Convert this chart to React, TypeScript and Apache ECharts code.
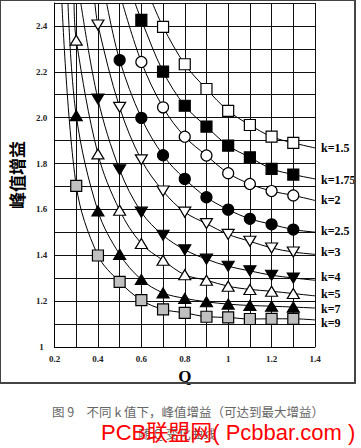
import React, { useEffect, useRef } from "react";
import * as echarts from "echarts";

// ---- data ----
const kNames = ["k=1.5", "k=1.75", "k=2", "k=2.5", "k=3", "k=4", "k=5", "k=7", "k=9"];

// marker Q positions and gains for each k
const qK15 = [0.7, 0.8, 0.9, 1.0, 1.1, 1.2, 1.3];
const gK15 = [2.396, 2.233, 2.125, 2.03, 1.968, 1.917, 1.89];
const qK175 = [0.6, 0.7, 0.8, 0.9, 1.0, 1.1, 1.2, 1.3];
const gK175 = [2.426, 2.201, 2.052, 1.961, 1.878, 1.827, 1.777, 1.752];
const qK2 = [0.6, 0.7, 0.8, 0.9, 1.0, 1.1, 1.2, 1.3];
const gK2 = [2.243, 2.045, 1.917, 1.835, 1.758, 1.711, 1.68, 1.661];
const qK25 = [0.5, 0.6, 0.7, 0.8, 0.9, 1.0, 1.1, 1.2, 1.3];
const gK25 = [2.251, 1.999, 1.836, 1.733, 1.653, 1.599, 1.559, 1.535, 1.512];
const qK3 = [0.4, 0.5, 0.6, 0.7, 0.8, 0.9, 1.0, 1.1, 1.2, 1.3];
const gK3 = [2.404, 2.045, 1.816, 1.68, 1.588, 1.538, 1.491, 1.461, 1.432, 1.414];
const qK4 = [0.4, 0.5, 0.6, 0.7, 0.8, 0.9, 1.0, 1.1, 1.2, 1.3];
const gK4 = [2.081, 1.773, 1.588, 1.487, 1.424, 1.383, 1.352, 1.332, 1.313, 1.301];
const qK5 = [0.3, 0.4, 0.5, 0.6, 0.7, 0.8, 0.9, 1.0, 1.1, 1.2, 1.3];
const gK5 = [2.338, 1.842, 1.596, 1.451, 1.378, 1.315, 1.291, 1.265, 1.251, 1.243, 1.233];
const qK7 = [0.3, 0.4, 0.5, 0.6, 0.7, 0.8, 0.9, 1.0, 1.1, 1.2, 1.3];
const gK7 = [2.009, 1.593, 1.404, 1.294, 1.236, 1.212, 1.197, 1.187, 1.181, 1.178, 1.174];
const qK9 = [0.3, 0.4, 0.5, 0.6, 0.7, 0.8, 0.9, 1.0, 1.1, 1.2, 1.3];
const gK9 = [1.703, 1.399, 1.284, 1.204, 1.164, 1.149, 1.132, 1.129, 1.122, 1.123, 1.123];

// where each curve leaves the top of the plot (G = 2.5) and its gain at Q = 1.4
const curveTopQ = [0.651, 0.571, 0.513, 0.44, 0.386, 0.321, 0.29, 0.262, 0.234];
const curveEndG = [1.868, 1.733, 1.639, 1.501, 1.404, 1.291, 1.223, 1.17, 1.118];

const xLabelValues = [0.2, 0.4, 0.6, 0.8, 1.0, 1.2, 1.4];
const xTickLabels = ["0.2", "0.4", "0.6", "0.8", "1", "1.2", "1.4"];
const yLabelValues = [1.0, 1.2, 1.4, 1.6, 1.8, 2.0, 2.2, 2.4];
const yTickLabels = ["1", "1.2", "1.4", "1.6", "1.8", "2.0", "2.2", "2.4"];

const yTitle = "峰值增益";
const xTitle = "Q";
const caption1 = "图 9　不同 k 值下，峰值增益（可达到最大增益）";
const caption2 = "随 Q 变化曲线";
const watermark = "PCB联盟网( Pcbbar.com )";

const qLists = [qK15, qK175, qK2, qK25, qK3, qK4, qK5, qK7, qK9];
const gLists = [gK15, gK175, gK2, gK25, gK3, gK4, gK5, gK7, gK9];

// marker styles
const markerStyles = [
  { symbol: "rect", size: 11, fill: "#ffffff", rotate: 0 },
  { symbol: "rect", size: 11, fill: "#000000", rotate: 0 },
  { symbol: "circle", size: 11, fill: "#ffffff", rotate: 0 },
  { symbol: "circle", size: 11, fill: "#000000", rotate: 0 },
  { symbol: "triangle", size: [12, 10], fill: "#ffffff", rotate: 180 },
  { symbol: "triangle", size: [12, 10], fill: "#000000", rotate: 180 },
  { symbol: "triangle", size: [12, 10], fill: "#ffffff", rotate: 0 },
  { symbol: "triangle", size: [12, 10], fill: "#000000", rotate: 0 },
  { symbol: "rect", size: 11, fill: "#c0c0c0", rotate: 0 },
];
const endLabelOffsets = [0, 1, 0, -1, -2, -3, -2, 1, 3];

const SERIF = "'Liberation Serif', 'Times New Roman', serif";
const CJK = "'Noto Sans CJK SC', sans-serif";

function labelFor(values: number[], labels: string[], v: number) {
  const i = values.findIndex((x) => Math.abs(x - v) < 1e-6);
  return i >= 0 ? labels[i] : "";
}

export default function App() {
  const ref = useRef<HTMLDivElement>(null);
  useEffect(() => {
    document.body.style.margin = "0";
    if (!ref.current) return;
    const chart = echarts.init(ref.current, undefined, { renderer: "svg" });

    const series = kNames.map((name, si) => {
      const ms = markerStyles[si];
      const data: any[] = [];
      data.push({ value: [curveTopQ[si], 2.5], symbol: "none" });
      qLists[si].forEach((q, i) => data.push({ value: [q, gLists[si][i]] }));
      data.push({ value: [1.4, curveEndG[si]], symbol: "none" });
      return {
        name,
        type: "line",
        data,
        smooth: 0.35,
        clip: true,
        symbol: ms.symbol,
        symbolSize: ms.size,
        symbolRotate: ms.rotate,
        showAllSymbol: true,
        lineStyle: { color: "#000", width: 1 },
        itemStyle: { color: ms.fill, borderColor: "#000", borderWidth: 1.2 },
        endLabel: {
          show: true,
          formatter: name,
          distance: 6,
          offset: [0, endLabelOffsets[si]],
          fontFamily: SERIF,
          fontWeight: "bold",
          fontSize: 12,
          color: "#000",
        },
        z: 3,
      };
    });

    chart.setOption({
      animation: false,
      backgroundColor: "#fff",
      grid: { left: 40, top: 3, right: 46, bottom: 101 },
      xAxis: {
        type: "value",
        min: 0.2,
        max: 1.4,
        interval: 0.1,
        name: xTitle,
        nameLocation: "middle",
        nameGap: 20,
        nameTextStyle: { fontFamily: SERIF, fontWeight: "bold", fontSize: 17, color: "#000" },
        axisLine: { show: true, lineStyle: { color: "#000", width: 1 } },
        axisTick: { show: false },
        splitLine: { show: true, lineStyle: { color: "#111", width: 1 } },
        axisLabel: {
          margin: 7,
          fontFamily: SERIF,
          fontWeight: "bold",
          fontSize: 9,
          color: "#222",
          formatter: (v: number) => labelFor(xLabelValues, xTickLabels, v),
        },
      },
      yAxis: {
        type: "value",
        min: 1,
        max: 2.5,
        interval: 0.1,
        name: yTitle,
        nameLocation: "middle",
        nameGap: 29,
        nameTextStyle: { fontFamily: CJK, fontWeight: "bold", fontSize: 17, color: "#000" },
        axisLine: { show: true, lineStyle: { color: "#000", width: 1 } },
        axisTick: { show: false },
        splitLine: { show: true, lineStyle: { color: "#111", width: 1 } },
        axisLabel: {
          margin: 13,
          align: "center",
          fontFamily: SERIF,
          fontWeight: "bold",
          fontSize: 9,
          color: "#222",
          formatter: (v: number) => labelFor(yLabelValues, yTickLabels, v),
        },
      },
      series,
      graphic: [
        {
          type: "rect",
          shape: { x: 0, y: 0, width: 355, height: 383 },
          style: { fill: "none", stroke: "#444", lineWidth: 2 },
          z: 10,
          silent: true,
        },
        {
          type: "text",
          x: 188,
          y: 411,
          style: {
            text: caption1,
            fontFamily: CJK,
            fontSize: 12.5,
            fill: "#666",
            align: "center",
            verticalAlign: "middle",
          },
          z: 10,
        },
        {
          type: "text",
          x: 177,
          y: 433,
          style: {
            text: caption2,
            fontFamily: CJK,
            fontSize: 12.5,
            fill: "#666",
            align: "center",
            verticalAlign: "middle",
          },
          z: 10,
        },
        {
          type: "text",
          x: 101,
          y: 432,
          style: {
            text: watermark,
            fontFamily: "'Liberation Sans', Arial, 'Noto Sans CJK SC', sans-serif",
            fontSize: 22,
            fill: "#ff0000",
            align: "left",
            verticalAlign: "middle",
          },
          z: 11,
        },
      ],
    });
    return () => chart.dispose();
  }, []);
  return <div ref={ref} style={{ width: 361, height: 448 }} />;
}
